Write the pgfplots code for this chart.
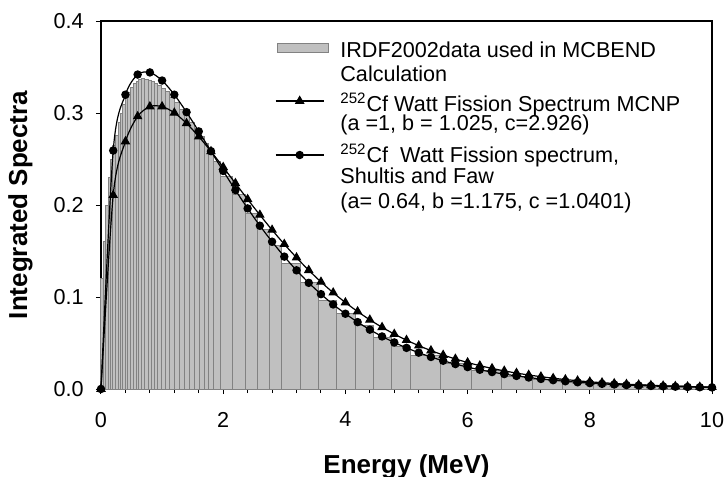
\documentclass[border=0pt]{standalone}
\usepackage{fontspec}
\setmainfont{Liberation Sans}
\usepackage{pgfplots}
\pgfplotsset{compat=1.18}
\definecolor{barfill}{RGB}{192,192,192}
\definecolor{baredge}{RGB}{130,130,130}
\newcommand{\lrule}{\rule{0pt}{26.75bp}}
\pgfplotsset{
  trileg/.style={legend image code/.code={\draw[##1, mark repeat=2, mark phase=2] plot coordinates {(-0.85bp,0.25bp) (11.2bp,0.25bp) (23.3bp,0.25bp)};}},
  cirleg/.style={legend image code/.code={\draw[##1, mark repeat=2, mark phase=2] plot coordinates {(-0.85bp,0bp) (11.2bp,0bp) (23.3bp,0bp)};}},
  barleg/.style={legend image code/.code={\draw[fill=barfill, draw=baredge, line width=0.5bp] (0bp,-2.3bp) rectangle (25.8bp,2.3bp);}},
}
\begin{document}
\begin{tikzpicture}
\path[use as bounding box] (-50.5bp,-44bp) rectangle (312bp,194.5bp);
\begin{axis}[
  at={(0,0)}, anchor=south west,
  scale only axis, width=305.5bp, height=184bp,
  xmin=0, xmax=10, ymin=0, ymax=0.4,
  clip=false,
  xtick={0,2,4,6,8,10}, ytick={0,0.1,0.2,0.3,0.4},
  minor x tick num=4,
  tick align=outside, xtick pos=lower, ytick pos=left,
  major tick length=2.5bp, minor tick length=2bp,
  axis line style={line width=0.6bp},
  every tick/.style={black, line width=0.5bp},
  /pgf/number format/assume math mode=true,
  yticklabel style={/pgf/number format/fixed, /pgf/number format/fixed zerofill,
    /pgf/number format/precision=1, font=\fontsize{10.8bp}{13bp}\selectfont, xshift=-2.7bp},
  xticklabel style={font=\fontsize{10.8bp}{13bp}\selectfont, yshift=-5.5bp},
  xlabel={Energy (MeV)}, ylabel={Integrated Spectra},
  label style={font=\bfseries\fontsize{13bp}{15bp}\selectfont},
  xlabel style={at={(axis description cs:0.5,-0.211)}, anchor=center},
  ylabel style={at={(axis description cs:-0.1318,0.5)}, anchor=center},
  legend style={at={(axis description cs:0.28478,0.99932)}, anchor=north west,
    draw=none, fill=none, inner sep=0pt, outer sep=0pt, row sep=0pt, column sep=0pt,
    cells={anchor=center},
    nodes={inner sep=0pt, text depth=0pt}},
]
\addplot[ybar interval, fill=barfill, draw=baredge, line width=0.5bp, barleg]
  table[row sep=\\] {
  x y\\
  0.000 0.120\\ 0.034 0.160\\ 0.070 0.200\\ 0.115 0.230\\ 0.150 0.250\\
  0.196 0.265\\ 0.230 0.276\\ 0.280 0.290\\ 0.320 0.300\\ 0.360 0.309\\
  0.400 0.316\\ 0.440 0.3225\\ 0.490 0.3275\\ 0.530 0.3317\\ 0.580 0.334\\
  0.620 0.336\\ 0.660 0.337\\ 0.710 0.3365\\ 0.770 0.3358\\ 0.820 0.3342\\
  0.880 0.332\\ 0.930 0.330\\ 0.990 0.3267\\ 1.050 0.3229\\ 1.120 0.3172\\
  1.200 0.3112\\ 1.290 0.3038\\ 1.370 0.2973\\ 1.450 0.290\\ 1.530 0.2827\\
  1.610 0.275\\ 1.700 0.267\\ 1.760 0.2545\\ 1.840 0.247\\ 1.960 0.2315\\
  2.160 0.211\\ 2.360 0.191\\ 2.560 0.173\\ 2.760 0.156\\ 2.960 0.136\\
  3.260 0.1155\\ 3.560 0.0967\\ 3.860 0.0826\\ 4.160 0.0685\\ 4.460 0.0565\\
  4.760 0.0465\\ 5.060 0.0366\\ 5.560 0.0272\\ 6.060 0.0199\\ 6.560 0.0134\\
  7.060 0.0105\\ 7.560 0.0080\\ 8.060 0.0060\\ 8.560 0.0045\\ 9.060 0.0033\\
  9.560 0.0025\\ 10.000 0.0025\\
  };
\addlegendentry{\lrule}
\addplot[black, line width=0.6bp, smooth, mark=triangle*, mark size=2.2bp, trileg]
  table[row sep=\\] {
  x y\\
  0 0\\ 0.2 0.2107\\ 0.4 0.2690\\ 0.6 0.2963\\ 0.8 0.3070\\ 1.0 0.3070\\
  1.2 0.3002\\ 1.4 0.2888\\ 1.6 0.2744\\ 1.8 0.2583\\ 2.0 0.2411\\
  2.2 0.2236\\ 2.4 0.2062\\ 2.6 0.1892\\ 2.8 0.1729\\ 3.0 0.1574\\
  3.2 0.1428\\ 3.4 0.1291\\ 3.6 0.1164\\ 3.8 0.1047\\ 4.0 0.0940\\
  4.2 0.0842\\ 4.4 0.0752\\ 4.6 0.0671\\ 4.8 0.0597\\ 5.0 0.0531\\
  5.2 0.0471\\ 5.4 0.0418\\ 5.6 0.0369\\ 5.8 0.0327\\ 6.0 0.0288\\
  6.2 0.0254\\ 6.4 0.0224\\ 6.6 0.0197\\ 6.8 0.0173\\ 7.0 0.0152\\
  7.2 0.0134\\ 7.4 0.0117\\ 7.6 0.0103\\ 7.8 0.0090\\ 8.0 0.0078\\
  8.2 0.0069\\ 8.4 0.0060\\ 8.6 0.0052\\ 8.8 0.0046\\ 9.0 0.0040\\
  9.2 0.0035\\ 9.4 0.0030\\ 9.6 0.0026\\ 9.8 0.0023\\ 10.0 0.0020\\
  };
\addlegendentry{\lrule}
\addplot[black, line width=0.6bp, smooth, mark=*, mark size=1.8bp, cirleg]
  table[row sep=\\] {
  x y\\
  0 0\\ 0.2 0.2592\\ 0.4 0.3199\\ 0.6 0.3418\\ 0.8 0.3441\\ 1.0 0.3353\\
  1.2 0.3199\\ 1.4 0.3009\\ 1.6 0.2800\\ 1.8 0.2585\\ 2.0 0.2370\\
  2.2 0.2162\\ 2.4 0.1963\\ 2.6 0.1775\\ 2.8 0.1601\\ 3.0 0.1439\\
  3.2 0.1290\\ 3.4 0.1154\\ 3.6 0.1031\\ 3.8 0.0919\\ 4.0 0.0818\\
  4.2 0.0727\\ 4.4 0.0645\\ 4.6 0.0571\\ 4.8 0.0506\\ 5.0 0.0447\\
  5.2 0.0395\\ 5.4 0.0348\\ 5.6 0.0307\\ 5.8 0.0271\\ 6.0 0.0238\\
  6.2 0.0209\\ 6.4 0.0184\\ 6.6 0.0162\\ 6.8 0.0142\\ 7.0 0.0125\\
  7.2 0.0109\\ 7.4 0.0096\\ 7.6 0.0084\\ 7.8 0.0073\\ 8.0 0.0064\\
  8.2 0.0056\\ 8.4 0.0049\\ 8.6 0.0043\\ 8.8 0.0038\\ 9.0 0.0033\\
  9.2 0.0029\\ 9.4 0.0025\\ 9.6 0.0022\\ 9.8 0.0019\\ 10.0 0.0017\\
  };
\addlegendentry{\lrule}
\begin{scope}[every node/.style={anchor=base west, inner sep=0pt, font=\fontsize{10.8bp}{13bp}\selectfont}]
\node at (axis description cs:0.39116,0.90082) {IRDF2002data used in MCBEND};
\node at (axis description cs:0.39116,0.83505) {Calculation};
\node at (axis description cs:0.39116,0.75543) {\textsuperscript{252}Cf Watt Fission Spectrum MCNP};
\node at (axis description cs:0.39116,0.70109) {(a =1, b = 1.025, c=2.926)};
\node at (axis description cs:0.39116,0.61685) {\textsuperscript{252}Cf\ \ Watt Fission spectrum,};
\node at (axis description cs:0.39116,0.55897) {Shultis and Faw};
\node at (axis description cs:0.39116,0.48967) {(a= 0.64, b =1.175, c =1.0401)};
\end{scope}
\end{axis}
\end{tikzpicture}
\end{document}
